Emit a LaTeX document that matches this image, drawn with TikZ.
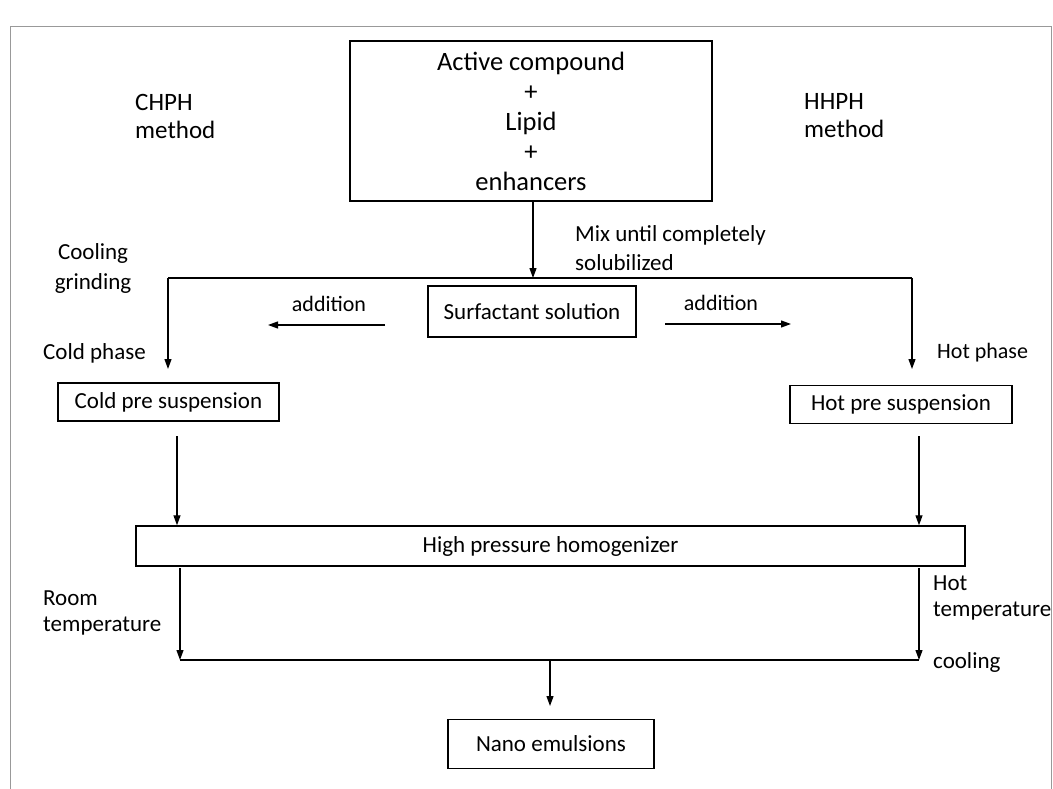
\documentclass[tikz,border=0pt]{standalone}
\usepackage{fontspec}
\setmainfont{Carlito}
\usetikzlibrary{arrows.meta}
\begin{document}
\begin{tikzpicture}[x=1pt,y=-1pt,
  every node/.style={font=\fontsize{23}{27}\selectfont, inner sep=0pt},
  box/.style={draw, line width=1.4pt},
  lbl/.style={anchor=west, align=left, font=\fontsize{23}{29}\selectfont},
  conn/.style={line width=1.2pt},
  arr/.style={conn, -{Triangle[length=10pt,width=7pt]}}]
\useasboundingbox (0,0) rectangle (1053,789);
\draw[gray!80, line width=1pt] (10,789) -- (10,27) -- (1051.5,27) -- (1051.5,789);

% boxes
\node[box, minimum width=362pt, minimum height=160pt, align=center,
      font=\fontsize{26.5}{30}\selectfont] (top) at (531,121)
  {Active compound\\+\\Lipid\\+\\enhancers};
\node[box, minimum width=208pt, minimum height=51pt] (surf) at (532,311.5) {Surfactant solution};
\node[box, minimum width=221pt, minimum height=38pt] (cold) at (168.5,402) {Cold pre suspension};
\node[box, minimum width=222pt, minimum height=38pt] (hot) at (901,404.5) {Hot pre suspension};
\node[box, minimum width=829pt, minimum height=40pt] (hph) at (550.5,546) {High pressure homogenizer};
\node[box, minimum width=206pt, minimum height=49pt] (nano) at (551,744) {Nano emulsions};

% labels
\node[lbl, font=\fontsize{25}{28}\selectfont] (chph) at (135,116) {CHPH\\method};
\node[lbl, font=\fontsize{25}{28}\selectfont] (hhph) at (804,116) {HHPH\\method};
\node[lbl] (mix) at (575,248) {Mix until completely\\solubilized};
\node[lbl, align=center, anchor=center, font=\fontsize{23}{30}\selectfont] (coolgr) at (93,268) {Cooling\\grinding};
\node[lbl] (coldph) at (43,353) {Cold phase};
\node[lbl, font=\fontsize{22}{29}\selectfont] (hotph) at (937,353) {Hot phase};
\node[font=\fontsize{22}{26}\selectfont] (addl) at (329,304) {addition};
\node[font=\fontsize{22}{26}\selectfont] (addr) at (721,303) {addition};
\node[lbl, font=\fontsize{23}{26}\selectfont] (room) at (43,613) {Room\\temperature};
\node[lbl, font=\fontsize{23}{26}\selectfont] (hottemp) at (933,598) {Hot\\temperature};
\node[lbl] (coolg) at (933,662) {cooling};

% coordinates
\coordinate (j) at (533,278);
\coordinate (jl) at (168,278);
\coordinate (jr) at (912,278);
\coordinate (jle) at (168,369);
\coordinate (jre) at (912,369);
\coordinate (al1) at (385,325);
\coordinate (al2) at (268,325);
\coordinate (ar1) at (665,324);
\coordinate (ar2) at (791,324);
\coordinate (cs) at (177,436);
\coordinate (hs) at (919,436);
\coordinate (dl) at (180,568);
\coordinate (dr) at (919,568);
\coordinate (bl) at (180,660);
\coordinate (br) at (919,660);
\coordinate (bm) at (550,660);
\coordinate (bme) at (550,706);

% connectors
\draw[arr] (top.south -| j) -- (j);
\draw[conn] (jl) -- (jr);
\draw[arr] (jl) -- (jle);
\draw[arr] (jr) -- (jre);
\draw[arr] (al1) -- (al2);
\draw[arr] (ar1) -- (ar2);
\draw[arr] (cs) -- (hph.north -| cs);
\draw[arr] (hs) -- (hph.north -| hs);
\draw[arr] (dl) -- (bl);
\draw[arr] (dr) -- (br);
\draw[conn] (bl) -- (br);
\draw[arr] (bm) -- (bme);
\end{tikzpicture}
\end{document}
